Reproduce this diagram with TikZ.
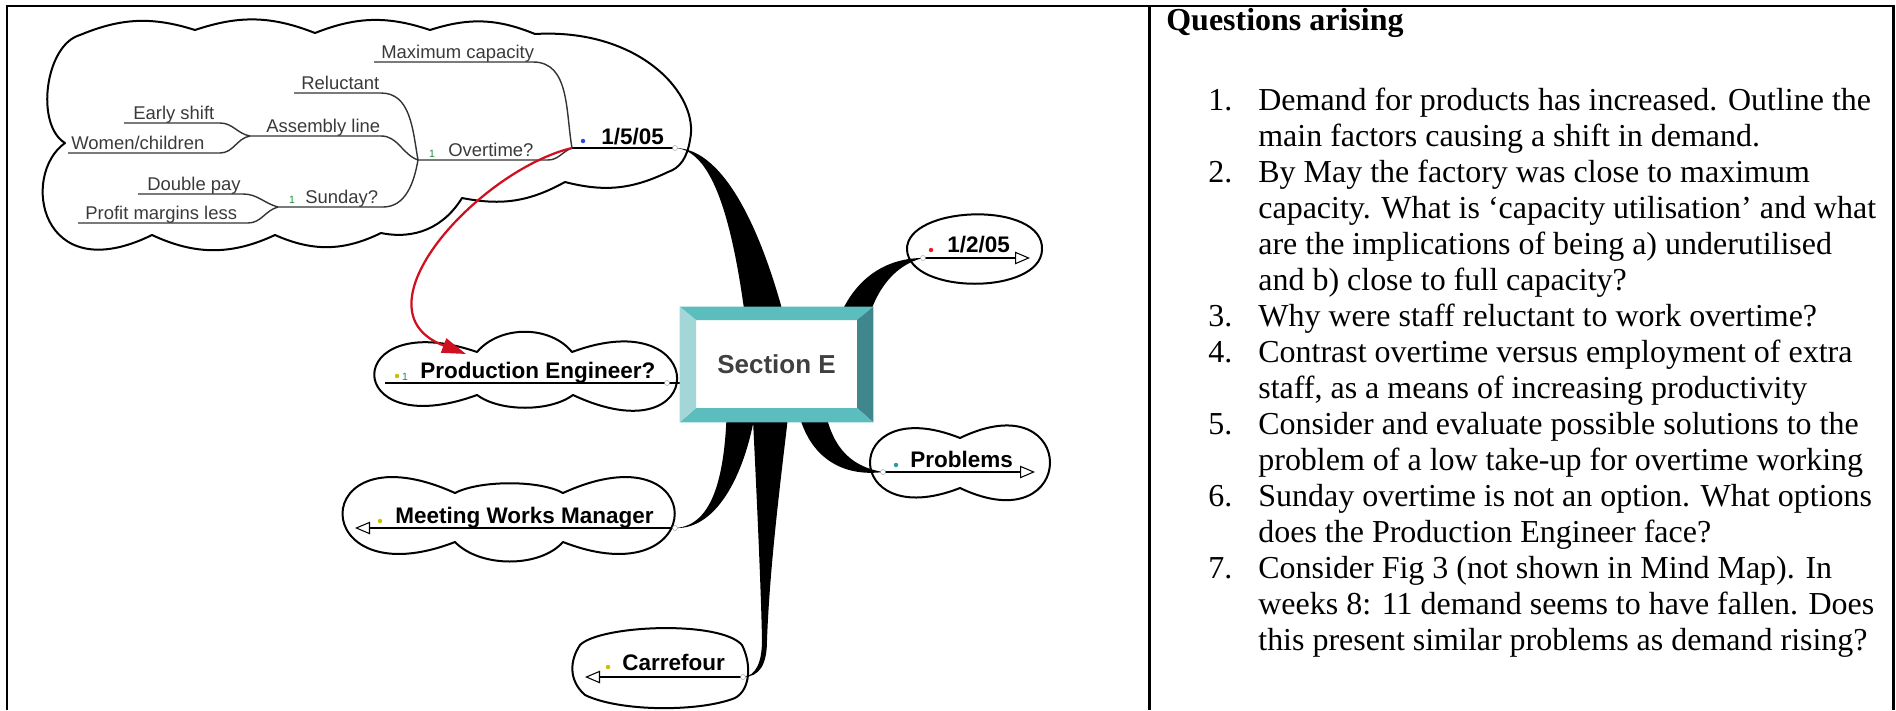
\documentclass[tikz,border=0pt]{standalone}
\usepackage{fontspec}
\setmainfont{Liberation Serif}
\setsansfont{Liberation Sans}
\usetikzlibrary{arrows.meta}
\definecolor{bevtop}{HTML}{5BBDBD}
\definecolor{bevleft}{HTML}{A3D6D6}
\definecolor{bevright}{HTML}{3F878C}
\definecolor{linkred}{HTML}{D01020}
\definecolor{dotyellow}{HTML}{C8C000}
\definecolor{dotblue}{HTML}{3048E0}
\definecolor{dotred}{HTML}{E82020}
\definecolor{dotteal}{HTML}{2E9C9C}
\definecolor{markgreen}{HTML}{1E8C3A}
\definecolor{labelgray}{HTML}{3A3A3A}
\begin{document}
\begin{tikzpicture}[x=0.02cm,y=-0.02cm,
    cloudline/.style={line width=0.04cm,line join=round},
    topicline/.style={line width=0.04cm},
    subline/.style={line width=0.028cm,draw=black!80},
    topic/.style={font=\sffamily\bfseries\fontsize{12.8}{14}\selectfont,inner sep=0pt,anchor=base west},
    subtopic/.style={font=\sffamily\fontsize{10.5}{12}\selectfont,text=labelgray,inner sep=0pt,anchor=base west},
    handle/.style={circle,draw=black!45,fill=white,line width=0.2pt,inner sep=0pt,minimum size=0.1cm},
    icondot/.style={circle,inner sep=0pt,minimum size=0.09cm},
    marker/.style={font=\sffamily\fontsize{6}{6}\selectfont,text=markgreen,inner sep=0pt},
    qtext/.style={font=\fontsize{18.2}{20.5}\selectfont,inner sep=0pt,anchor=base west},
    collapse/.style={-{Triangle[open,length=0.3cm,width=0.25cm,line width=0.6pt]}}]
 \useasboundingbox (0,0) rectangle (1896,710);
 \draw[line width=0.06cm] (7,710) -- (7,6) -- (1893,6) -- (1893,710);
 \draw[line width=0.06cm] (1149,6) -- (1149,710);

 \node[qtext,font=\bfseries\fontsize{18.2}{20.5}\selectfont] (qhead) at (1166,31) {Questions arising};
 \foreach \k/\n in {0/1,2/2,6/3,7/4,9/5,11/6,13/7}
   \node[qtext] (num\n) at (1208,110+36*\k) {\n.};
 \foreach \k/\t in {0/{Demand for products has increased. Outline the},
     1/{main factors causing a shift in demand.},
     2/{By May the factory was close to maximum},
     3/{capacity. What is ‘capacity utilisation’ and what},
     4/{are the implications of being a) underutilised},
     5/{and b) close to full capacity?},
     6/{Why were staff reluctant to work overtime?},
     7/{Contrast overtime versus employment of extra},
     8/{staff, as a means of increasing productivity},
     9/{Consider and evaluate possible solutions to the},
     10/{problem of a low take-up for overtime working},
     11/{Sunday overtime is not an option. What options},
     12/{does the Production Engineer face?},
     13/{Consider Fig 3 (not shown in Mind Map). In},
     14/{weeks 8: 11 demand seems to have fallen. Does},
     15/{this present similar problems as demand rising?}}
   \node[qtext] (ql\k) at (1258,110+36*\k) {\t};

 \coordinate (e105) at (675,148);
 \coordinate (t105) at (572,148);
 \coordinate (e1205) at (923,258);
 \coordinate (eprob) at (883,472);
 \coordinate (eprod) at (667,383);
 \coordinate (emwm) at (675,528);
 \coordinate (ecarr) at (743,677);
 \coordinate (jover) at (418,160);
 \coordinate (jasm) at (250,136);
 \coordinate (jsun) at (278,207);
 \coordinate (prodtip) at (466,354);

 \fill (e105) .. controls (715,150) and (735,230) .. (748,340) -- (790,340) .. controls (765,235) and (725,148) .. (e105);
 \fill (e1205) .. controls (880,258) and (845,285) .. (832,340) -- (864,340) .. controls (870,295) and (893,265) .. (e1205);
 \fill (eprob) .. controls (848,466) and (830,445) .. (823,400) -- (796,400) .. controls (805,460) and (845,477) .. (eprob);
 \fill (emwm) .. controls (715,526) and (726,470) .. (727,400) -- (757,400) .. controls (748,470) and (718,530) .. (emwm);
 \fill (752,400) .. controls (757,500) and (761,590) .. (762,640) .. controls (762,662) and (756,676) .. (ecarr)
   .. controls (760,677) and (767,664) .. (767,640) .. controls (770,560) and (782,470) .. (790,400) -- cycle;
 \draw[topicline] (eprod) -- (684,383);

 \node[fill=white,minimum width=3.86cm,minimum height=2.3cm,inner sep=0pt,
   font=\sffamily\bfseries\fontsize{14.8}{16}\selectfont,text=black!75] (sece) at (776.5,364.5) {Section E};
 \coordinate (inw) at (696,320);
 \coordinate (ine) at (857,320);
 \coordinate (ise) at (857,408);
 \coordinate (isw) at (696,408);
 \fill[bevtop] (sece.north west) -- (sece.north east) -- (ine) -- (inw) -- cycle;
 \fill[bevright] (sece.north east) -- (sece.south east) -- (ise) -- (ine) -- cycle;
 \fill[bevtop] (sece.south east) -- (sece.south west) -- (isw) -- (ise) -- cycle;
 \fill[bevleft] (sece.south west) -- (sece.north west) -- (inw) -- (isw) -- cycle;

 \draw[cloudline] (80,35) to[bend left=20] (195,30) to[bend left=20] (315,33) to[bend left=20] (430,30) to[bend left=20] (535,34)
   .. controls (640,28) and (700,95) .. (690,140) .. controls (687,158) and (680,168) .. (668,172)
   to[bend left=20] (565,182) to[bend left=20] (462,198) to[bend left=35] (381,233)
   to[bend left=25] (275,235) to[bend left=25] (152,235)
   .. controls (40,290) and (20,175) .. (65,143) .. controls (35,125) and (45,45) .. (80,35) -- cycle;

 \node[topic] (d105) at (601,144) {1/5/05};
 \draw[topicline] (t105) -- (e105);
 \node[icondot,fill=dotblue] (i105) at (583,141) {};

 \node[subtopic] (maxc) at (381,58) {Maximum capacity};
 \draw[subline] (374,62) -- (533,62) to[out=0,in=100] (t105);
 \node[subtopic] (over) at (448,156) {Overtime?};
 \node[marker] (mover) at (432,154) {1};
 \draw[subline] (jover) -- (548,160) to[out=0,in=200] (t105);
 \node[subtopic] (relu) at (301,89) {Reluctant};
 \draw[subline] (294,93) -- (381,93) to[out=0,in=100] (jover);
 \node[subtopic] (asml) at (266,132) {Assembly line};
 \draw[subline] (jasm) -- (381,136) to[out=0,in=160] (jover);
 \node[subtopic] (sund) at (305,203) {Sunday?};
 \node[marker] (msun) at (292,200) {1};
 \draw[subline] (jsun) -- (383,207) to[out=0,in=-100] (jover);
 \node[subtopic] (earl) at (133,119) {Early shift};
 \draw[subline] (124,123) -- (220,123) to[out=0,in=170] (jasm);
 \node[subtopic] (womc) at (71,149) {Women/children};
 \draw[subline] (68,153) -- (220,153) to[out=0,in=190] (jasm);
 \node[subtopic] (dblp) at (147,190) {Double pay};
 \draw[subline] (138,194) -- (243,194) to[out=0,in=165] (jsun);
 \node[subtopic] (prof) at (85,219) {Profit margins less};
 \draw[subline] (78,223) -- (248,223) to[out=0,in=195] (jsun);

 \draw[cloudline] (907,250) .. controls (905,205) and (1045,200) .. (1042,250) .. controls (1040,295) and (910,295) .. (907,250) -- cycle;
 \node[topic] (d1205) at (947,252) {1/2/05};
 \node[icondot,fill=dotred] (i1205) at (931,250) {};
 \draw[topicline,collapse] (e1205) -- (1030,258);

 \draw[cloudline] (960,438) .. controls (1080,380) and (1080,545) .. (960,488) .. controls (840,535) and (840,390) .. (960,438) -- cycle;
 \node[topic] (prob) at (910,467) {Problems};
 \node[icondot,fill=dotteal] (iprob) at (896,465) {};
 \draw[topicline,collapse] (eprob) -- (1035,472);

 \draw[cloudline] (477,352) .. controls (500,325) and (550,325) .. (572,352) .. controls (712,300) and (712,460) .. (573,395)
   .. controls (550,412) and (500,412) .. (477,395) .. controls (340,445) and (340,305) .. (477,352) -- cycle;
 \node[topic] (prod) at (420,378) {Production Engineer?};
 \node[icondot,fill=dotyellow] (iprod) at (397,376) {};
 \node[marker] (mprod) at (405,377) {1};
 \draw[topicline] (385,383) -- (eprod);

 \draw[cloudline] (455,493) .. controls (480,480) and (540,480) .. (563,493) .. controls (712,425) and (712,600) .. (563,542)
   .. controls (540,568) and (480,568) .. (455,542) .. controls (305,600) and (305,425) .. (455,493) -- cycle;
 \node[topic] (mwm) at (395,523) {Meeting Works Manager};
 \node[icondot,fill=dotyellow] (imwm) at (380,521) {};
 \draw[topicline,collapse] (emwm) -- (355,528);

 \draw[cloudline] (580,645) .. controls (600,625) and (720,620) .. (742,645) .. controls (752,665) and (750,690) .. (735,698)
   .. controls (700,712) and (620,712) .. (585,695) .. controls (568,680) and (570,660) .. (580,645) -- cycle;
 \node[topic] (carr) at (622,670) {Carrefour};
 \node[icondot,fill=dotyellow] (icarr) at (608,667) {};
 \draw[topicline,collapse] (ecarr) -- (585,677);

 \draw[linkred,line width=0.045cm,-{Triangle[length=0.48cm,width=0.3cm]}] (t105) .. controls (480,170) and (350,310) .. (prodtip);

 \foreach \h in {e105,e1205,eprob,eprod,emwm,ecarr}
   \node[handle] (h\h) at (\h) {};
\end{tikzpicture}
\end{document}
